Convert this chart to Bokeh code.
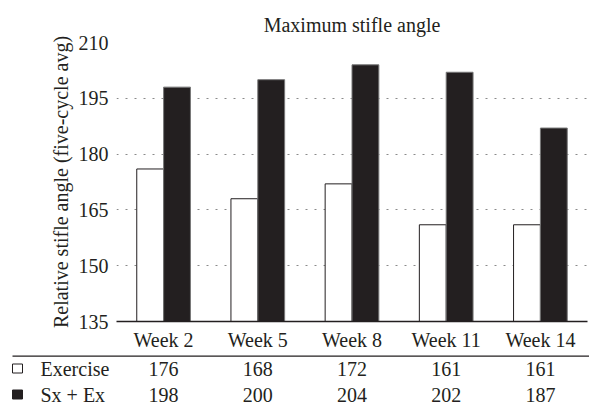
from bokeh.plotting import figure
from bokeh.models import Range1d, FactorRange, FixedTicker, ColumnDataSource
from bokeh.transform import dodge
from bokeh.layouts import column
from bokeh.core.properties import value
from bokeh.embed import file_html
from bokeh.resources import INLINE

# ---- data ----
weeks = ["Week 2", "Week 5", "Week 8", "Week 11", "Week 14"]
exercise = [176, 168, 172, 161, 161]
sx_ex = [198, 200, 204, 202, 187]
series_names = ["Exercise", "Sx + Ex"]
y_ticks = [135, 150, 165, 180, 195, 210]
chart_title = "Maximum stifle angle"
y_label = "Relative stifle angle (five-cycle avg)"

# ---- style ----
FONT = "Liberation Serif"
INK = "#231f20"
FS = "20px"

W = 589
FRAME_L, FRAME_R = 116, 2
H1, FRAME_T, FRAME_B = 353, 42, 28
H2 = 404 - H1
frame_w = W - FRAME_L - FRAME_R
px_per_cat = frame_w / len(weeks)

src = ColumnDataSource(dict(week=weeks, exercise=exercise, sx_ex=sx_ex))

p = figure(width=W, height=H1, x_range=FactorRange(*weeks),
           y_range=Range1d(y_ticks[0], y_ticks[-1]),
           output_backend="svg", toolbar_location=None,
           min_border_left=FRAME_L, min_border_right=FRAME_R,
           min_border_top=FRAME_T, min_border_bottom=FRAME_B)
p.outline_line_color = None
p.title.text = chart_title
p.title.align = "center"
p.title.text_font = FONT
p.title.text_font_size = FS
p.title.text_font_style = "normal"
p.title.text_color = INK
p.title.standoff = 14

p.xgrid.grid_line_color = None
p.ygrid.grid_line_color = "#8a8a8a"
p.ygrid.grid_line_dash = "2 7"
p.ygrid.grid_line_width = 1
p.ygrid.ticker = FixedTicker(ticks=y_ticks)

p.yaxis.ticker = FixedTicker(ticks=y_ticks)
p.yaxis.axis_line_color = None
p.yaxis.major_tick_line_color = None
p.yaxis.minor_tick_line_color = None
p.yaxis.major_tick_out = 0
p.yaxis.major_label_standoff = 8
p.yaxis.major_label_text_font = FONT
p.yaxis.major_label_text_font_size = FS
p.yaxis.major_label_text_color = INK
p.yaxis.axis_label = y_label
p.yaxis.axis_label_text_font = FONT
p.yaxis.axis_label_text_font_size = FS
p.yaxis.axis_label_text_font_style = "normal"
p.yaxis.axis_label_text_color = INK
p.yaxis.axis_label_standoff = 4

p.xaxis.axis_line_color = INK
p.xaxis.axis_line_width = 1.3
p.xaxis.major_tick_line_color = None
p.xaxis.minor_tick_line_color = None
p.xaxis.major_tick_out = 0
p.xaxis.major_label_standoff = 7
p.xaxis.major_label_text_font = FONT
p.xaxis.major_label_text_font_size = FS
p.xaxis.major_label_text_color = INK

p.vbar(x=dodge("week", -0.1425, range=p.x_range), top="exercise", bottom=y_ticks[0],
       width=0.285, fill_color="white", line_color=INK, line_width=1, source=src)
p.vbar(x=dodge("week", 0.1425, range=p.x_range), top="sx_ex", bottom=y_ticks[0],
       width=0.285, fill_color=INK, line_color="#777777", line_width=1, source=src)

# ---- table below (same frame as the chart; y in pixels from its top) ----
p2 = figure(width=W, height=H2, x_range=Range1d(0, len(weeks)), y_range=Range1d(H2, 0),
            output_backend="svg", toolbar_location=None,
            x_axis_location=None, y_axis_location=None,
            min_border_left=FRAME_L, min_border_right=FRAME_R,
            min_border_top=0, min_border_bottom=0)
p2.outline_line_color = None
p2.grid.visible = False

def to_x(px):
    return (px - FRAME_L) / px_per_cat

rule_y = 2.7
row_y = [15, 41]
p2.segment(x0=[to_x(12)], x1=[to_x(W)], y0=[rule_y], y1=[rule_y],
           line_color=INK, line_width=1.3, level="overlay")

centers = [i + 0.5 for i in range(len(weeks))]
tsrc = ColumnDataSource(dict(x=centers * 2, y=[row_y[0]] * len(weeks) + [row_y[1]] * len(weeks),
                             t=[str(v) for v in exercise] + [str(v) for v in sx_ex]))
p2.text(x="x", y="y", text="t", source=tsrc, text_font=value(FONT), text_font_size=FS,
        text_color=INK, text_align="center", text_baseline="middle", level="overlay")

p2.quad(left=[to_x(12), to_x(12)], right=[to_x(22), to_x(22)],
        top=[y - 4.5 for y in row_y], bottom=[y + 4.5 for y in row_y],
        fill_color=["white", INK], line_color=INK, line_width=1, level="overlay")
p2.text(x=[to_x(40), to_x(40)], y=row_y, text=series_names, text_font=value(FONT),
        text_font_size=FS, text_color=INK, text_align="left", text_baseline="middle",
        level="overlay")

layout = column(p, p2, spacing=0)
open("out.html", "w").write(file_html(layout, INLINE))
